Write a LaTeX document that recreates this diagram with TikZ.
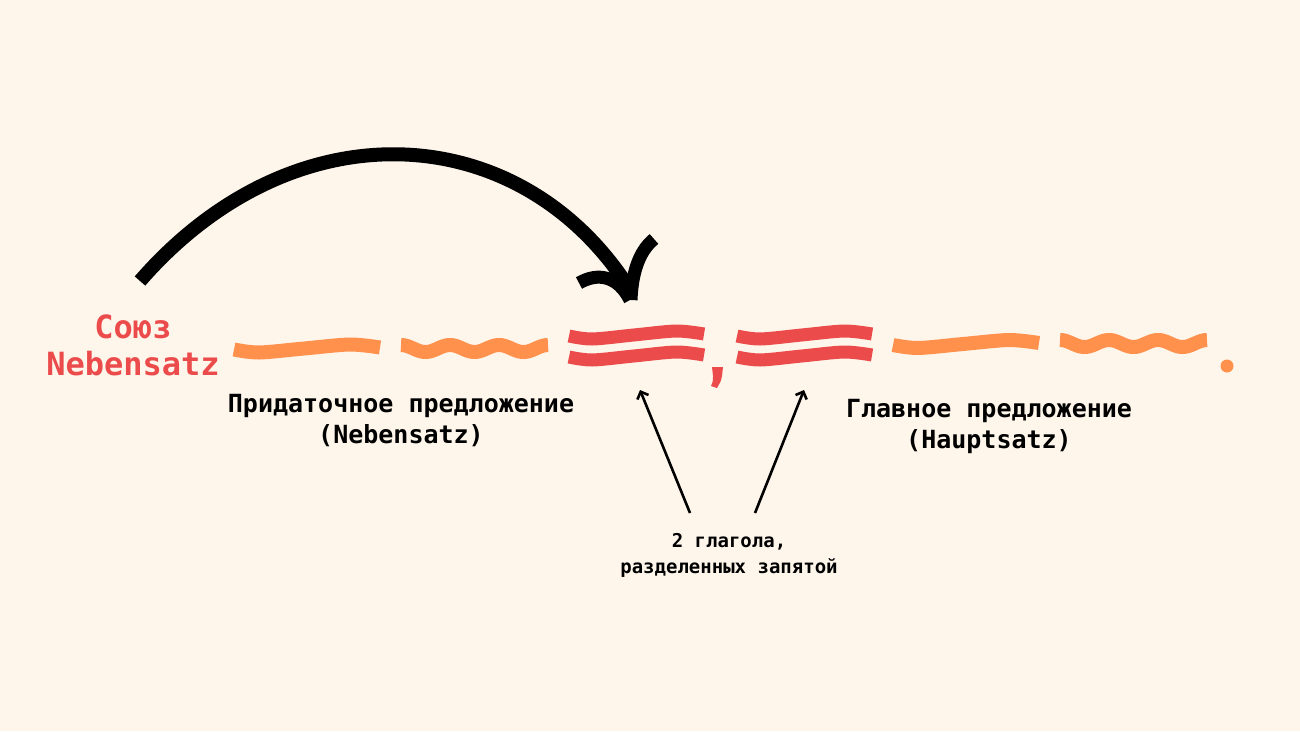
\documentclass[tikz,border=0pt]{standalone}
\usepackage{fontspec}
\setmonofont{DejaVu Sans Mono}
\usetikzlibrary{positioning,arrows.meta}

\definecolor{paper}{HTML}{FEF6EB}
\definecolor{clause}{HTML}{FF914D}
\definecolor{verb}{HTML}{EC4B4B}

\begin{document}
\begin{tikzpicture}[x=1pt, y=-1pt, font=\ttfamily\bfseries,
          lbl/.style={align=center, inner sep=0pt, anchor=base},
          stroke/.style={line width=14pt, line cap=butt},
          wobble/.style={insert path={plot[smooth] coordinates {(0,0) (25,3) (70,-1) (116,-5) (146,-2)}}},
          wave/.style={insert path={plot[domain=0:147, samples=80] (\x, {-3.5*cos(\x*7.347)})}},
          pointer/.style={-{Straight Barb[length=6pt,width=12pt]}, line width=2.6pt}]
  \useasboundingbox (0,0) rectangle (1300,731);
  \fill[paper] (0,0) rectangle (1300,731);

  \node[lbl, text=verb, font=\ttfamily\bfseries\fontsize{32}{37}\selectfont] (conj) at (133,375) {Союз\\Nebensatz};
  \node[lbl, font=\ttfamily\bfseries\fontsize{25}{31}\selectfont] (sub) at (401,443) {Придаточное предложение\\(Nebensatz)};
  \node[lbl, font=\ttfamily\bfseries\fontsize{25}{31}\selectfont] (main) at (989,448) {Главное предложение\\(Hauptsatz)};
  \node[lbl, font=\ttfamily\bfseries\fontsize{19}{26}\selectfont] (verbs) at (729,573) {2 глагола,~\\разделенных запятой};

  % subordinate clause
  \draw[stroke, clause, shift={(234,349.5)}, wobble];
  \draw[stroke, clause, shift={(401,348.5)}, wave];
  % the two verbs with the comma between them
  \foreach \bx in {569,737}{
    \draw[stroke, line width=13pt, verb, shift={(\bx,336)}, xscale=0.925, wobble];
    \draw[stroke, line width=13pt, verb, shift={(\bx,357)}, xscale=0.925, wobble];
  }
  \fill[verb] (712,367) -- (723,367) -- (722,376) .. controls (721,381) .. (717,388)
    -- (711,386) .. controls (713,381) .. (713,376) -- cycle;
  % main clause
  \draw[stroke, clause, shift={(893,345)}, wobble];
  \draw[stroke, clause, shift={(1060,343.5)}, wave];
  \fill[clause] (1227,366) circle (6.5);

  % conjunction jumps to the verb
  \coordinate (jump) at (140,281);
  \coordinate (land) at (629,288);
  \draw[stroke] (jump) .. controls (294,104) and (520,118) .. (land);
  \draw[line width=13pt] (579,283) .. controls (598,272) and (618,276) .. (630,300);
  \draw[line width=13pt] (654,239) .. controls (638,252) and (632,275) .. (631,300);

  \coordinate (v1) at (640,390);
  \coordinate (v2) at (804,390);
  \coordinate (tail1) at (690,513);
  \coordinate (tail2) at (755,513);
  \draw[pointer] (tail1) -- (v1);
  \draw[pointer] (tail2) -- (v2);
\end{tikzpicture}
\end{document}
